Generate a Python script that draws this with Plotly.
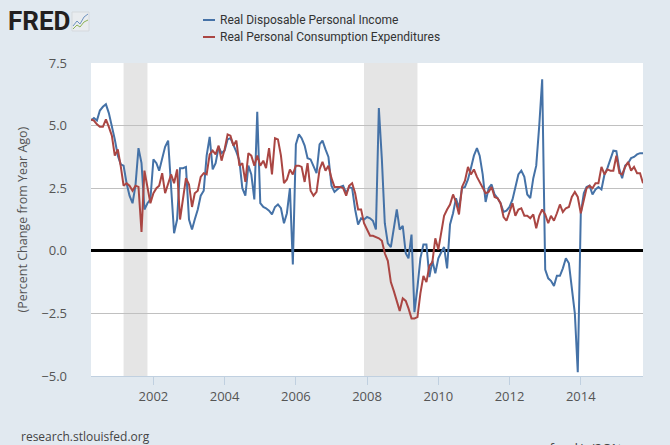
import pandas as pd
import plotly.graph_objects as go

# monthly, Apr 2000 .. Oct 2015, percent change from year ago
start_month = "2000-04-01"

income_pc1 = [
    5.2, 5.3, 5.2, 5.6, 5.75, 5.85, 5.5, 5.0, 4.45,
    3.8, 3.45, 3.4, 2.7, 2.2, 1.9, 2.6, 4.1, 3.5, 1.65, 1.9, 2.05,
    3.65, 3.5, 3.2, 3.65, 4.15, 4.4, 2.45, 0.7, 1.25, 3.3, 3.3, 3.35,
    1.25, 0.85, 1.25, 1.65, 2.2, 2.4, 3.8, 4.55, 3.25, 3.5, 4.15, 3.9,
    4.0, 4.45, 4.5, 4.25, 3.95, 3.6, 2.5, 2.2, 3.4, 3.05, 2.05, 5.55,
    1.9, 1.75, 1.7, 1.6, 1.45, 1.75, 1.85, 1.7, 1.1, 1.5, 2.5, -0.55,
    4.25, 4.65, 4.5, 4.2, 3.7, 3.65, 3.4, 3.1, 4.25, 4.4, 4.05, 3.75,
    2.6, 2.35, 2.45, 2.55, 2.6, 2.3, 2.55, 2.5, 1.65, 1.05, 1.3, 1.25,
    1.35, 1.3, 1.2, 0.85, 5.7, 3.65, 1.1, 0.3, 0.15, 0.9, 1.65, 0.85,
    1.0, -0.1, -0.3, 0.65, -2.45, -1.45, -0.3, 0.25, 0.25, -1.05, -0.4, -0.9,
    -0.3, -0.05, 0.15, -0.7, 1.05, 1.5, 2.1, 1.7, 2.5, 2.55, 2.85, 3.3,
    3.8, 4.1, 3.8, 3.05, 1.95, 2.5, 2.65, 2.25, 2.1, 1.9, 1.55, 1.6,
    1.75, 2.05, 2.5, 3.05, 3.2, 2.95, 2.25, 2.1, 2.9, 3.4, 5.0, 6.85,
    -0.75, -1.1, -1.2, -1.4, -1.0, -1.0, -0.7, -0.3, -0.5, -1.45, -2.5, -4.85,
    1.5, 2.3, 2.55, 2.6, 2.25, 2.45, 2.55, 2.45, 3.05, 3.3, 3.65, 4.0,
    3.98, 3.25, 2.9, 3.4, 3.5, 3.7, 3.75, 3.85, 3.9, 3.9,
]

consumption_pc1 = [
    5.25, 5.2, 5.05, 4.95, 4.95, 5.25, 4.95, 4.6, 3.8,
    4.05, 3.35, 2.6, 2.7, 2.6, 2.4, 2.6, 2.55, 0.75, 3.2, 2.55, 1.9,
    2.3, 2.5, 2.6, 3.1, 2.3, 2.7, 3.05, 2.7, 3.25, 1.25, 2.2, 2.9,
    2.65, 1.75, 2.3, 2.4, 2.95, 3.1, 3.05, 3.85, 4.0, 3.85, 4.2, 3.6,
    4.05, 4.65, 4.6, 4.2, 4.4, 3.4, 3.5, 2.75, 3.9, 3.8, 3.4, 3.8,
    3.4, 3.6, 3.3, 4.1, 3.05, 4.5, 4.45, 3.8, 2.7, 2.85, 3.25, 3.05,
    3.4, 3.4, 3.35, 2.75, 3.5, 2.4, 2.2, 2.35, 3.25, 3.55, 3.2, 3.4,
    2.9, 2.55, 2.55, 2.55, 2.5, 2.2, 2.6, 2.7, 2.3, 1.65, 1.65, 1.1,
    0.85, 0.6, 0.6, 0.55, 0.5, 0.4, -0.1, -0.4, -1.25, -1.6, -2.0, -2.4,
    -1.9, -2.0, -2.3, -2.7, -2.7, -2.65, -1.7, -1.0, -1.25, -0.6, -0.45, 0.5,
    0.05, 0.7, 1.4, 1.65, 1.85, 2.25, 1.95, 1.45, 2.55, 2.8, 3.35, 3.05,
    3.25, 2.95, 2.75, 2.5, 2.3, 2.35, 2.55, 2.15, 2.1, 1.9, 1.35, 1.2,
    1.55, 1.9, 1.4, 1.65, 1.7, 1.4, 1.4, 1.3, 1.45, 0.9, 1.4, 1.65,
    1.45, 1.1, 1.4, 1.2, 1.5, 1.85, 1.55, 1.7, 1.75, 2.15, 2.35, 2.15,
    1.5, 2.1, 2.5, 2.6, 2.5, 2.7, 2.7, 3.35, 3.05, 3.25, 3.2, 3.2,
    3.8, 3.1, 3.05, 3.35, 3.55, 3.2, 3.35, 3.1, 3.1, 2.7,
]

recessions = [("2001-03-01", "2001-11-01"), ("2007-12-01", "2009-06-01")]
series_names = ["Real Disposable Personal Income", "Real Personal Consumption Expenditures"]
series_colors = ["#4572A7", "#AA4643"]

dates = pd.date_range(start_month, periods=len(income_pc1), freq="MS")

W, H = 670, 445
L, R, T, B = 91, 27, 63, 69
plot_w, plot_h = W - L - R, H - T - B


def px(x):
    return (x - L) / plot_w


def py(y):
    return (H - B - y) / plot_h


fig = go.Figure()
for values, name, color in zip([income_pc1, consumption_pc1], series_names, series_colors):
    fig.add_trace(go.Scatter(x=dates, y=values, mode="lines", name=name,
                             line=dict(color=color, width=2), showlegend=False))

for x0, x1 in recessions:
    fig.add_shape(type="rect", xref="x", yref="paper", x0=x0, x1=x1, y0=0, y1=1,
                  fillcolor="#E5E5E5", line_width=0, layer="between")

# legend drawn by hand: FRED style short swatches
for i, (name, color) in enumerate(zip(series_names, series_colors)):
    row_y = 20 + 17 * i
    fig.add_shape(type="line", xref="paper", yref="paper", x0=px(203), x1=px(215),
                  y0=py(row_y), y1=py(row_y), line=dict(color=color, width=2))
    fig.add_annotation(text=name, xref="paper", yref="paper", x=px(218), y=py(row_y),
                       xanchor="left", yanchor="middle", showarrow=False,
                       font=dict(family="Roboto", size=12, color="#333333"))

# little FRED badge
fig.add_shape(type="rect", xref="paper", yref="paper", x0=px(72), x1=px(89), y0=py(31), y1=py(12),
              fillcolor="#E9ECEF", line=dict(color="#D5D9DD", width=1))
fig.add_shape(type="path", xref="paper", yref="paper",
              path=f"M{px(73)},{py(26)} L{px(77)},{py(21)} L{px(80)},{py(24)} L{px(84)},{py(17)} L{px(88)},{py(14)}",
              line=dict(color="#6F93BF", width=1))
fig.add_shape(type="path", xref="paper", yref="paper",
              path=f"M{px(73)},{py(29)} L{px(77)},{py(25)} L{px(80)},{py(27)} L{px(84)},{py(22)} L{px(88)},{py(20)}",
              line=dict(color="#8DB255", width=1))

fig.add_annotation(text="<b>FRED</b>", xref="paper", yref="paper", x=px(6), y=py(21),
                   xanchor="left", yanchor="middle", showarrow=False,
                   font=dict(family="Roboto", size=26, color="#231F20"))
fig.add_annotation(text="(Percent Change from Year Ago)", xref="paper", yref="paper",
                   x=px(22), y=0.5, xanchor="center", yanchor="middle", textangle=-90, showarrow=False,
                   font=dict(family="Open Sans", size=12.5, color="#555555"))
fig.add_annotation(text="research.stlouisfed.org", xref="paper", yref="paper", x=px(19), y=py(436),
                   xanchor="left", yanchor="middle", showarrow=False,
                   font=dict(family="Open Sans", size=12, color="#444444"))
# short link sits at the very bottom edge, partly cropped as in the original export
fig.add_annotation(text="myf.red/g/2C1t", xref="paper", yref="paper", x=px(529), y=py(437),
                   xanchor="left", yanchor="top", showarrow=False,
                   font=dict(family="Open Sans", size=13, color="#444444"))

fig.update_layout(
    width=W,
    height=H,
    margin=dict(l=L, r=R, t=T, b=B, pad=0),
    paper_bgcolor="#E1E9F0",
    plot_bgcolor="#FFFFFF",
    font=dict(family="Open Sans", size=13, color="#555555"),
    showlegend=False,
    xaxis=dict(
        type="date",
        range=[dates[0], dates[-1]],
        tick0="2002-01-01",
        dtick="M24",
        tickformat="%Y",
        showgrid=False,
        showline=True,
        linecolor="#C0D0E0",
        linewidth=1,
        ticks="outside",
        ticklen=8,
        tickcolor="#C0D0E0",
        tickfont=dict(size=13, color="#555555"),
    ),
    yaxis=dict(
        range=[-5, 7.5],
        tick0=0,
        dtick=2.5,
        tickformat=".1f",
        showgrid=True,
        gridcolor="#C0C0C0",
        gridwidth=1,
        zeroline=True,
        zerolinecolor="#000000",
        zerolinewidth=2.5,
        ticks="",
        ticklabelstandoff=23,
        tickfont=dict(size=13, color="#555555"),
    ),
)

fig.write_html("out.html", config={"displayModeBar": False},
               post_script="document.body.style.margin='0';")
